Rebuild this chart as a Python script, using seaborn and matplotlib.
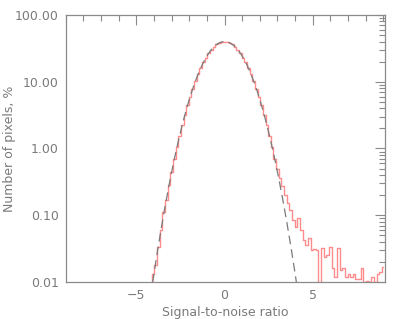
import numpy as np
import pandas as pd
import seaborn as sns
import matplotlib.pyplot as plt
from matplotlib.ticker import FixedLocator, LogLocator, FormatStrFormatter, NullFormatter

# bin centres of the S/N histogram (bin width 0.15)
bin_width = 0.15
snr = np.round(np.arange(-28, 61) * bin_width, 3)

# percentage of pixels per unit S/N
pct = [
    0.004, 0.013, 0.018, 0.034, 0.060, 0.11, 0.17, 0.28, 0.44, 0.69,
    1.05, 1.55, 2.24, 3.18, 4.41, 5.98, 7.92, 10.25, 12.99, 16.08,
    19.47, 23.05, 26.68, 30.19, 33.41, 36.15, 38.24, 39.55, 40.0, 39.55,
    38.24, 36.15, 33.41, 30.19, 26.68, 23.05, 19.47, 16.08, 12.99, 10.25,
    7.92, 5.98, 4.41, 3.18, 2.25, 1.55, 1.05, 0.70, 0.50, 0.36,
    0.27, 0.20, 0.15, 0.12, 0.085, 0.066, 0.090, 0.060, 0.042, 0.036,
    0.046, 0.030, 0.031, 0.030, 0.001, 0.032, 0.024, 0.025, 0.034, 0.016,
    0.012, 0.032, 0.015, 0.016, 0.012, 0.013, 0.012, 0.013, 0.011, 0.011,
    0.016, 0.010, 0.0105, 0.005, 0.012, 0.010, 0.013, 0.014, 0.017,
]

# gaussian reference (peak, sigma)
g_amp = 40.0
g_sigma = 1.0

df = pd.DataFrame({"snr": snr, "pct": pct})
xg = np.linspace(-4.3, 4.3, 400)
gauss = pd.DataFrame({"snr": xg, "pct": g_amp * np.exp(-xg**2 / (2 * g_sigma**2))})

sns.set_style("white")
plt.rcParams["font.family"] = ["DejaVu Sans"]
grey = "#8a8a8a"
txt = "#7a7a7a"

fig = plt.figure(figsize=(3.99, 3.19), dpi=100)
ax = fig.add_axes([0.165, 0.116, 0.8, 0.837])

sns.lineplot(data=df, x="snr", y="pct", drawstyle="steps-mid", color="#ff8c8c",
             linewidth=1.0, ax=ax)
sns.lineplot(data=gauss, x="snr", y="pct", color="#7a7a7a", linewidth=0.9, ax=ax)
ax.lines[-1].set_dashes((7, 4))

ax.set_yscale("log")
ax.set_xlim(-9, 9.1)
ax.set_ylim(0.01, 100)

ax.xaxis.set_major_locator(FixedLocator([-5, 0, 5]))
ax.xaxis.set_minor_locator(FixedLocator(np.arange(-9, 10, 1)))
ax.yaxis.set_major_locator(LogLocator(base=10, numticks=10))
ax.yaxis.set_minor_locator(LogLocator(base=10, subs=np.arange(2, 10), numticks=10))
ax.yaxis.set_major_formatter(FormatStrFormatter("%.2f"))
ax.yaxis.set_minor_formatter(NullFormatter())

ax.tick_params(which="both", direction="in", top=True, right=True, color=grey,
               labelcolor=txt, labelsize=9, width=0.8)
ax.tick_params(which="major", length=7, pad=5)
ax.tick_params(which="minor", length=4)
for s in ax.spines.values():
    s.set_color(grey)
    s.set_linewidth(0.9)

ax.set_xlabel("Signal-to-noise ratio", color=txt, fontsize=9, labelpad=3)
ax.set_ylabel("Number of pixels, %", color=txt, fontsize=9, va="center")
ax.yaxis.set_label_coords(-0.175, 0.5)

fig.savefig("out.png", dpi=100)
